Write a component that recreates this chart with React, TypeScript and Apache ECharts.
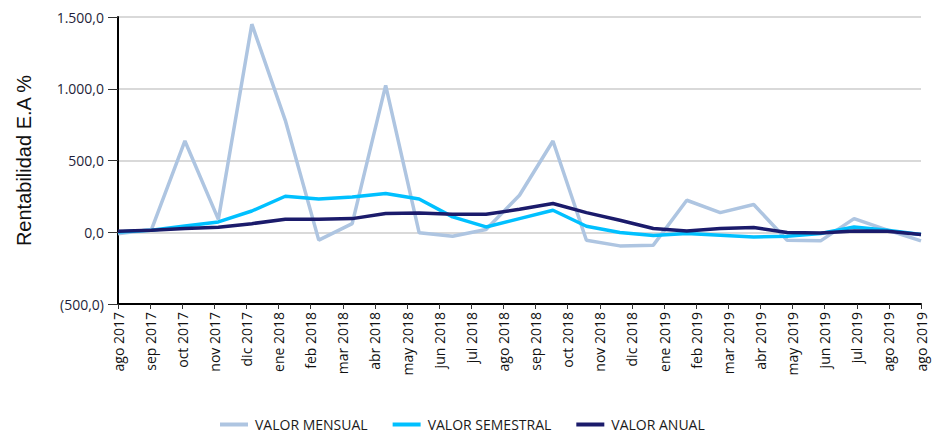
import React, { useEffect, useRef } from "react";
import * as echarts from "echarts";

const axisLabels = [
  "ago 2017", "sep 2017", "oct 2017", "nov 2017", "dic 2017", "ene 2018", "feb 2018",
  "mar 2018", "abr 2018", "may 2018", "jun 2018", "jul 2018", "ago 2018", "sep 2018",
  "oct 2018", "nov 2018", "dic 2018", "ene 2019", "feb 2019", "mar 2019", "abr 2019",
  "may 2019", "jun 2019", "jul 2019", "ago 2019", "ago 2019",
];

const mensual = [
  -10, 19, 636, 90, 1450, 780, -55, 60, 1024, -3, -28, 19, 258, 636, -56, -95, -90,
  223, 137, 193, -56, -60, 95, 15, -60,
];
const semestral = [
  2, 14, 44, 72, 148, 251, 232, 246, 270, 232, 107, 37, 95, 153, 42, -2, -23, -9,
  -21, -33, -28, -9, 37, 14, -16,
];
const anual = [
  7, 14, 26, 35, 60, 90, 90, 95, 130, 135, 125, 125, 160, 200, 137, 84, 26, 9, 26,
  33, -2, -5, 9, 7, -16,
];

const yTicks = { min: -500, max: 1500, interval: 500 };

function fmt(v: number): string {
  const abs = Math.abs(v);
  const intPart = Math.floor(abs).toString().replace(/\B(?=(\d{3})+(?!\d))/g, ".");
  const s = intPart + ",0";
  return v < 0 ? "(" + s + ")" : s;
}

export default function App() {
  const ref = useRef<HTMLDivElement>(null);
  useEffect(() => {
    if (!ref.current) return;
    const chart = echarts.init(ref.current, undefined, { renderer: "svg" });
    const toPts = (arr: number[]) => arr.map((v, i) => [i, v]);
    chart.setOption({
      animation: false,
      grid: { left: 118, right: 14, top: 17, bottom: 130, containLabel: false },
      legend: {
        top: 417,
        left: 220,
        padding: 0,
        itemWidth: 28,
        itemHeight: 4,
        itemGap: 25,
        icon: "rect",
        textStyle: {
          fontFamily: "Open Sans",
          fontSize: 14,
          lineHeight: 15,
          color: "#1a1a1a",
          padding: [0, 0, 0, 2],
        },
        data: ["VALOR MENSUAL", "VALOR SEMESTRAL", "VALOR ANUAL"],
      },
      xAxis: [
        {
          type: "category",
          data: axisLabels,
          boundaryGap: false,
          axisLine: { onZero: false, lineStyle: { color: "#000", width: 2 } },
          axisTick: { show: true, length: 5, alignWithLabel: true, lineStyle: { color: "#333" } },
          axisLabel: {
            rotate: 90,
            interval: 0,
            margin: 8,
            fontFamily: "Open Sans",
            fontSize: 14,
            color: "#111",
          },
          splitLine: { show: false },
        },
        {
          type: "value",
          min: 0,
          max: mensual.length - 1,
          show: false,
        },
      ],
      yAxis: {
        type: "value",
        min: yTicks.min,
        max: yTicks.max,
        interval: yTicks.interval,
        name: "Rentabilidad E.A %",
        nameLocation: "middle",
        nameGap: 84,
        nameRotate: 90,
        nameTextStyle: { fontFamily: "Liberation Sans", fontSize: 20, color: "#111" },
        axisLine: { show: true, lineStyle: { color: "#000", width: 2 } },
        axisTick: { show: true, length: 10, lineStyle: { color: "#333" } },
        axisLabel: {
          formatter: (v: number) => fmt(v),
          margin: 14,
          fontFamily: "Open Sans",
          fontSize: 14,
          color: "#1f1f3a",
        },
        splitLine: { show: true, lineStyle: { color: "#d9d9d9", width: 2 } },
      },
      series: [
        {
          name: "VALOR MENSUAL",
          type: "line",
          xAxisIndex: 1,
          data: toPts(mensual),
          showSymbol: false,
          symbol: "none",
          lineStyle: { color: "#aec5e1", width: 3.5 },
          itemStyle: { color: "#aec5e1" },
          z: 2,
        },
        {
          name: "VALOR SEMESTRAL",
          type: "line",
          xAxisIndex: 1,
          data: toPts(semestral),
          showSymbol: false,
          symbol: "none",
          lineStyle: { color: "#00c0ff", width: 3.5 },
          itemStyle: { color: "#00c0ff" },
          z: 3,
        },
        {
          name: "VALOR ANUAL",
          type: "line",
          xAxisIndex: 1,
          data: toPts(anual),
          showSymbol: false,
          symbol: "none",
          lineStyle: { color: "#1b1b6b", width: 3.5 },
          itemStyle: { color: "#1b1b6b" },
          z: 4,
        },
      ],
    });
    return () => chart.dispose();
  }, []);
  return <div ref={ref} style={{ width: 935, height: 434, position: "absolute", left: 0, top: 0 }} />;
}
